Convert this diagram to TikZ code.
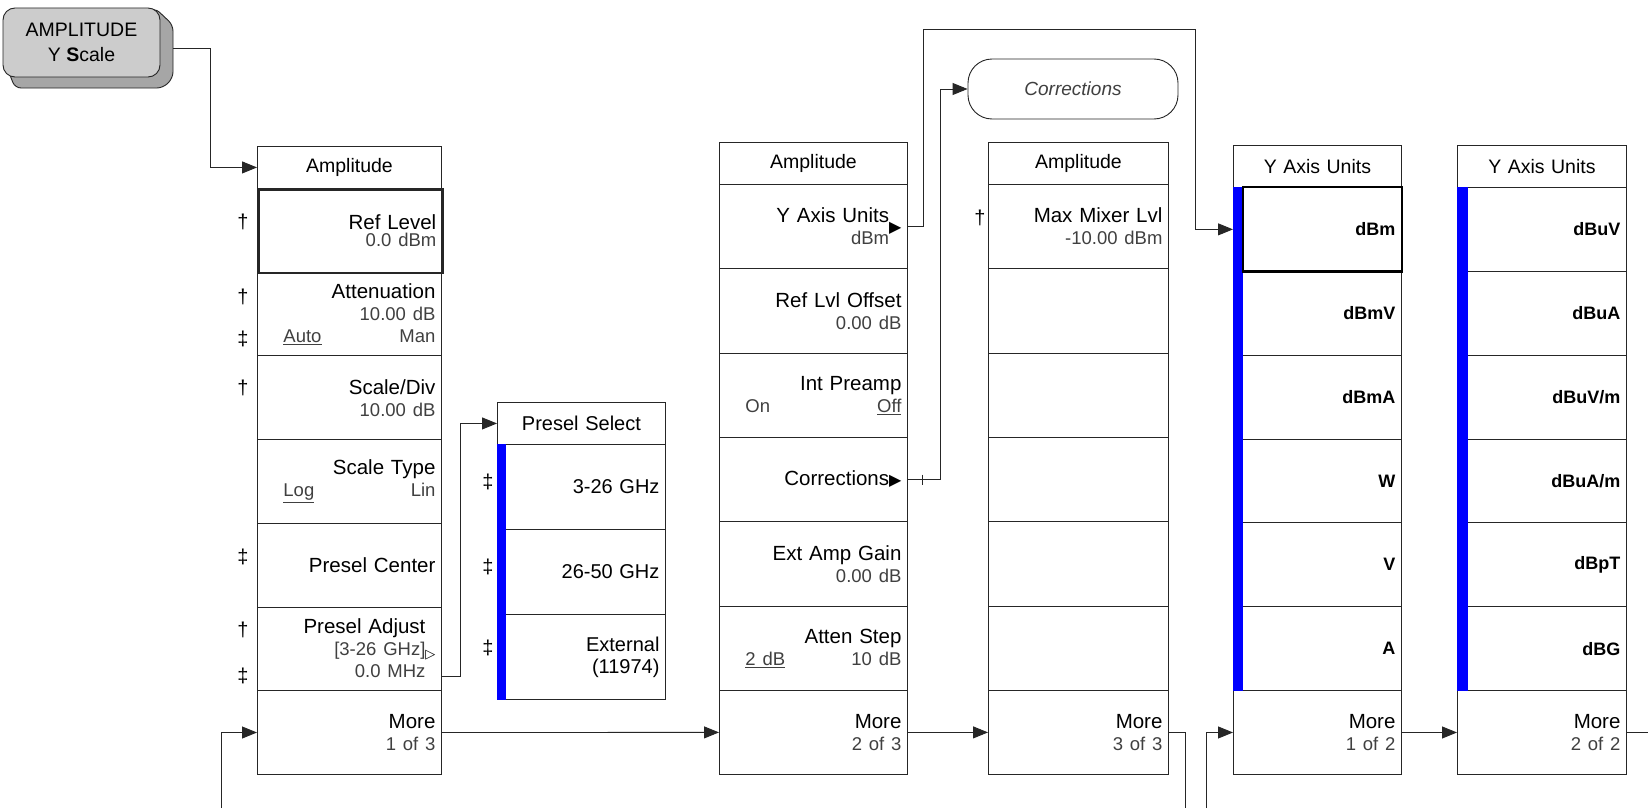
\documentclass[tikz,border=0pt]{standalone}
\usepackage{fontspec}
\setmainfont{Liberation Sans}
\newfontfamily\symb{DejaVu Sans}
\usetikzlibrary{arrows.meta}
\newcommand\lab{\fontsize{20.5}{22}\selectfont}
\newcommand\val[1]{{\fontsize{18.5}{22}\selectfont\color{black!75}#1}}
\newcommand\choix[2]{\hspace*{20pt}\val{#1}\hfill\val{#2}}
\newcommand\pleine{{\symb\fontsize{16}{16}\selectfont ▶}}
\newcommand\vide{{\symb\fontsize{13}{13}\selectfont ▷}}

\begin{document}
\begin{tikzpicture}[x=1pt, y=-1pt,
  trait/.style={draw=black!85, line width=0.9pt},
  fleche/.style={trait, -{Triangle[length=15pt,width=12pt]}},
  entete/.style={trait, anchor=north west, align=center, text width=#1, minimum height=42pt,
    inner xsep=6pt, inner ysep=0pt, font=\fontsize{19.5}{22}\selectfont},
  touche/.style={trait, anchor=north west, align=right, inner xsep=6pt, inner ysep=0pt, font=\lab},
  tA/.style={touche, text width=172pt, minimum height=83.7pt},
  tB/.style={touche, text width=156pt, minimum height=85pt, font=\fontsize{20}{22}\selectfont},
  tC/.style={touche, text width=176pt, minimum height=84.3pt},
  tD/.style={touche, text width=168pt, minimum height=84.3pt},
  tE/.style={touche, text width=156pt, minimum height=83.85pt, font=\fontsize{18}{20}\selectfont\bfseries},
  tF/.style={tE, text width=157pt},
  marque/.style={font=\fontsize{20}{22}\selectfont, inner sep=0pt}]
  \path[use as bounding box, fill=white] (0,0) rectangle (1648,808);

  % Touche AMPLITUDE
  \filldraw[fill=gray!70, draw=black!85, line width=0.9pt, rounded corners=6pt]
    (8,70) -- (15,88) -- (163,88) -- (173,78) -- (173,25) -- (155,8) -- cycle;
  \node[trait, fill=gray!40, rounded corners=12pt, minimum width=157pt, minimum height=69pt,
    align=center, font=\fontsize{19.5}{25}\selectfont] (cle) at (81.5,42.5)
    {AMPLITUDE\\Y \textbf{S}cale};

  % Menu 1 of 3
  \node[entete=172pt] (c1h) at (257,146) {Amplitude};
  \node[tA, line width=2.6pt] (c1r1) at (257,188) {Ref Level\\[-5pt]\val{0.0 dBm}};
  \node[tA] (c1r2) at (257,271.7) {Attenuation\\\val{10.00 dB}\\\choix{\underline{Auto}}{Man}};
  \node[tA] (c1r3) at (257,355.4) {Scale/Div\\\val{10.00 dB}};
  \node[tA] (c1r4) at (257,439.1) {Scale Type\\\choix{\underline{Log}}{Lin}};
  \node[tA] (c1r5) at (257,522.8) {Presel Center};
  \node[tA] (c1r6) at (257,606.5) {Presel Adjust\phantom{\vide}\\
    \val{[3-26 GHz]}\smash{\raisebox{-3pt}{\vide}}\\\val{0.0 MHz}\phantom{\vide}};
  \node[tA] (c1r7) at (257,690.2) {More\\\val{1 of 3}};

  % Presel Select
  \node[entete=156pt, font=\fontsize{20}{22}\selectfont] (c2h) at (497,402) {Presel Select};
  \node[tB] (c2r1) at (497,444) {3-26 GHz};
  \node[tB] (c2r2) at (497,529) {26-50 GHz};
  \node[tB] (c2r3) at (497,614) {External\\(11974)};
  \fill[blue] (c2r1.north west) rectangle ([xshift=9pt]c2r3.south west);

  % Menu 2 of 3
  \node[entete=176pt] (c3h) at (719,142) {Amplitude};
  \node[tC] (c3r1) at (719,184) {Y Axis Units\smash{\raisebox{-10pt}{\pleine}}\\\val{dBm}\phantom{\pleine}};
  \node[tC] (c3r2) at (719,268.3) {Ref Lvl Offset\\\val{0.00 dB}};
  \node[tC] (c3r3) at (719,352.6) {Int Preamp\\\choix{On}{\underline{Off}}};
  \node[tC] (c3r4) at (719,436.9) {Corrections\pleine};
  \node[tC] (c3r5) at (719,521.2) {Ext Amp Gain\\\val{0.00 dB}};
  \node[tC] (c3r6) at (719,605.5) {Atten Step\\\choix{\underline{2 dB}}{10 dB}};
  \node[tC] (c3r7) at (719,689.8) {More\\\val{2 of 3}};

  % Menu 3 of 3
  \node[entete=168pt] (c4h) at (988,142) {Amplitude};
  \node[tD] (c4r0) at (988,184) {Max Mixer Lvl\\\val{-10.00 dBm}};
  \foreach \i in {1,...,5}
    \node[tD] (c4r\i) at (988,{184+84.3*\i}) {};
  \node[tD] (c4r6) at (988,689.8) {More\\\val{3 of 3}};

  \node[trait, rounded corners=24pt, minimum width=210pt, minimum height=60pt, text=black!75,
    font=\itshape\fontsize{19}{22}\selectfont] (corr) at (1073,89) {Corrections};

  % Y Axis Units 1 of 2
  \node[entete=156pt] (c5h) at (1233,145) {Y Axis Units};
  \foreach \u [count=\i from 0] in {dBm,dBmV,dBmA,W,V,A}
    \node[tE] (c5r\i) at (1233,{187+83.85*\i}) {\u};
  \node[tE, font=\lab] (c5r6) at (1233,690.1) {More\\\val{1 of 2}};
  \fill[blue] (c5r0.north west) rectangle ([xshift=10pt]c5r5.south west);
  \draw[line width=2.6pt] ([xshift=10pt]c5r0.north west) rectangle (c5r0.south east);

  % Y Axis Units 2 of 2
  \node[entete=157pt] (c6h) at (1457,145) {Y Axis Units};
  \foreach \u [count=\i from 0] in {dBuV,dBuA,dBuV/m,dBuA/m,dBpT,dBG}
    \node[tF] (c6r\i) at (1457,{187+83.85*\i}) {\u};
  \node[tF, font=\lab] (c6r6) at (1457,690.1) {More\\\val{2 of 2}};
  \fill[blue] (c6r0.north west) rectangle ([xshift=11pt]c6r5.south west);

  % Marques
  \foreach \x/\y/\s in {243/222/†, 243/297/†, 243/339/‡, 243/388/†, 243/557/‡, 243/630/†,
      243/676/‡, 488/482/‡, 488/567/‡, 488/648/‡, 980/218/†}
    \node[marque] (m\x-\y) at (\x,\y) {\s};

  % Liaisons
  \coordinate (bas1) at (221,808);
  \coordinate (bas3) at (1185,808);
  \coordinate (bas5) at (1206,808);
  \coordinate (coude) at (1195,29);
  \draw[fleche] ([xshift=13pt,yshift=-5.5pt]cle.east) -- ++(37,0) |- (c1h.west);
  \draw[fleche] ([yshift=-28pt]c1r6.east) -- ++(19,0) |- (c2h.west);
  \draw[fleche] (bas1) |- (c1r7.west);
  \draw[fleche] (c1r7.east) -- (c3r7.west);
  \draw[fleche] (c3r7.east) -- (c4r6.west);
  \draw[trait] (c4r6.east) -| (bas3);
  \draw[fleche] (c3r1.east) -- ++(16,0) |- (coude) |- (c5r0.west);
  \draw[fleche] (c3r4.east) -- ++(33,0) |- (corr.west);
  \draw[trait] ([xshift=15pt]c3r4.east) +(0,-5) -- +(0,5);
  \draw[fleche] (bas5) |- (c5r6.west);
  \draw[fleche] (c5r6.east) -- (c6r6.west);
  \draw[trait] (c6r6.east) -- ++(22,0);
\end{tikzpicture}
\end{document}
